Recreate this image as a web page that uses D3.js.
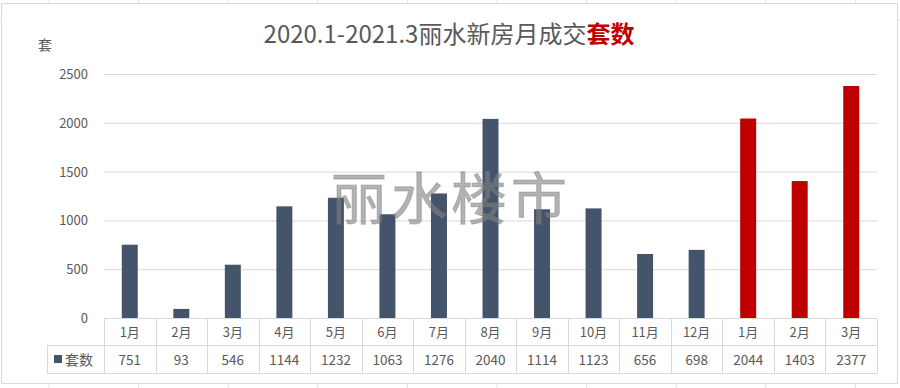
<!DOCTYPE html>
<html>
<head>
<meta charset="utf-8">
<script src="https://cdn.jsdelivr.net/npm/d3@7"></script>
<style>
  body { margin: 0; background: #fff; }
  text { font-family: "Noto Sans CJK SC", "Open Sans", sans-serif; }
</style>
</head>
<body>
<svg id="chart"></svg>
<script>
// data
let months = ["1月", "2月", "3月", "4月", "5月", "6月", "7月", "8月", "9月", "10月", "11月", "12月", "1月", "2月", "3月"];
let values = [751, 93, 546, 1144, 1232, 1063, 1276, 2040, 1114, 1123, 656, 698, 2044, 1403, 2377];
let years = [2020, 2020, 2020, 2020, 2020, 2020, 2020, 2020, 2020, 2020, 2020, 2020, 2021, 2021, 2021];
let yTicks = [0, 500, 1000, 1500, 2000, 2500];

let width = 900;
let height = 388;
let plotLeft = 104, plotRight = 877, plotTop = 74, plotBottom = 318;

let chart = d3.select("#chart").attr("width", width).attr("height", height);

// spreadsheet cell lines behind the chart
let cellLines = d3.range(49, 900, 89.6);
chart.selectAll("line.cell").data(cellLines).enter().append("line")
    .attr("x1", d => d).attr("x2", d => d).attr("y1", 0).attr("y2", height)
    .style("stroke", "#e1e1e1");
chart.append("line").attr("x1", 0).attr("x2", width).attr("y1", 20).attr("y2", 20).style("stroke", "#e1e1e1");

// chart box
chart.append("rect")
    .attr("x", 1.5).attr("y", 3.5).attr("width", 896).attr("height", 380)
    .style("fill", "#fff").style("stroke", "#d9d9d9");

let xscale = d3.scaleBand()
    .domain(d3.range(months.length))
    .range([plotLeft, plotRight])
    .paddingInner(0.69)
    .paddingOuter(0.345);

let yscale = d3.scaleLinear()
    .domain([0, 2500])
    .range([plotBottom, plotTop]);

// gridlines
chart.append("g")
    .attr("transform", "translate(" + plotLeft + ",0)")
    .call(d3.axisLeft(yscale).tickValues(yTicks).tickSize(-(plotRight - plotLeft)).tickFormat(""))
    .call(g => g.select(".domain").remove())
    .call(g => g.selectAll("line").style("stroke", "#d9d9d9"));

// y tick labels
chart.append("g").selectAll("text").data(yTicks).enter().append("text")
    .attr("x", 88)
    .attr("y", d => yscale(d) + 5)
    .style("text-anchor", "end")
    .style("font-size", "13px")
    .style("fill", "#595959")
    .text(d => d);

// bars
chart.append("g").selectAll("rect").data(values).enter().append("rect")
    .attr("x", (d, i) => xscale(i))
    .attr("width", xscale.bandwidth())
    .attr("y", d => yscale(d))
    .attr("height", d => yscale(0) - yscale(d))
    .style("fill", (d, i) => years[i] == 2021 ? "#c00000" : "#44546a");

// data table
let colW = (plotRight - plotLeft) / months.length;
let rowTop = 318.5, rowMid = 345.5, rowBot = 373.5;
let table = chart.append("g").style("stroke", "#d9d9d9").style("fill", "none");
table.append("line").attr("x1", plotLeft).attr("x2", plotRight).attr("y1", rowTop).attr("y2", rowTop);
table.append("line").attr("x1", 47).attr("x2", plotRight).attr("y1", rowMid).attr("y2", rowMid);
table.append("line").attr("x1", 47).attr("x2", plotRight).attr("y1", rowBot).attr("y2", rowBot);
table.append("line").attr("x1", 47.5).attr("x2", 47.5).attr("y1", rowMid).attr("y2", rowBot);
table.selectAll("line.col").data(d3.range(months.length + 1)).enter().append("line")
    .attr("x1", i => Math.round(plotLeft + i * colW) + 0.5)
    .attr("x2", i => Math.round(plotLeft + i * colW) + 0.5)
    .attr("y1", rowTop).attr("y2", rowBot);

chart.append("g").selectAll("text").data(months).enter().append("text")
    .attr("x", (d, i) => xscale(i) + xscale.bandwidth() / 2)
    .attr("y", 337)
    .style("text-anchor", "middle")
    .style("font-size", "13px")
    .style("fill", "#595959")
    .text(d => d);

chart.append("g").selectAll("text").data(values).enter().append("text")
    .attr("x", (d, i) => xscale(i) + xscale.bandwidth() / 2)
    .attr("y", 365)
    .style("text-anchor", "middle")
    .style("font-size", "13.5px")
    .style("fill", "#595959")
    .text(d => d);

// legend key
chart.append("rect").attr("x", 54).attr("y", 355).attr("width", 8).attr("height", 8).style("fill", "#44546a");
chart.append("text").attr("x", 65).attr("y", 365)
    .style("font-size", "14px").style("fill", "#595959").text("套数");

// title
let title = chart.append("text")
    .attr("x", 449).attr("y", 43)
    .style("text-anchor", "middle")
    .style("font-size", "24px")
    .style("fill", "#595959");
title.append("tspan").text("2020.1-2021.3丽水新房月成交");
title.append("tspan").style("fill", "#c00000").style("font-weight", "bold").text("套数");

// y label
chart.append("text").attr("x", 38).attr("y", 50)
    .style("font-size", "14px").style("fill", "#595959").text("套");

// watermark
chart.append("text")
    .attr("x", 451).attr("y", 219)
    .style("text-anchor", "middle")
    .style("font-family", "'Noto Sans CJK SC', sans-serif")
    .style("font-size", "56px")
    .style("font-weight", "400")
    .style("letter-spacing", "4px")
    .style("fill", "rgba(128,128,128,0.6)")
    .style("stroke", "rgba(128,128,128,0.4)")
    .style("stroke-width", "1.2px")
    .text("丽水楼市");
</script>
</body>
</html>
